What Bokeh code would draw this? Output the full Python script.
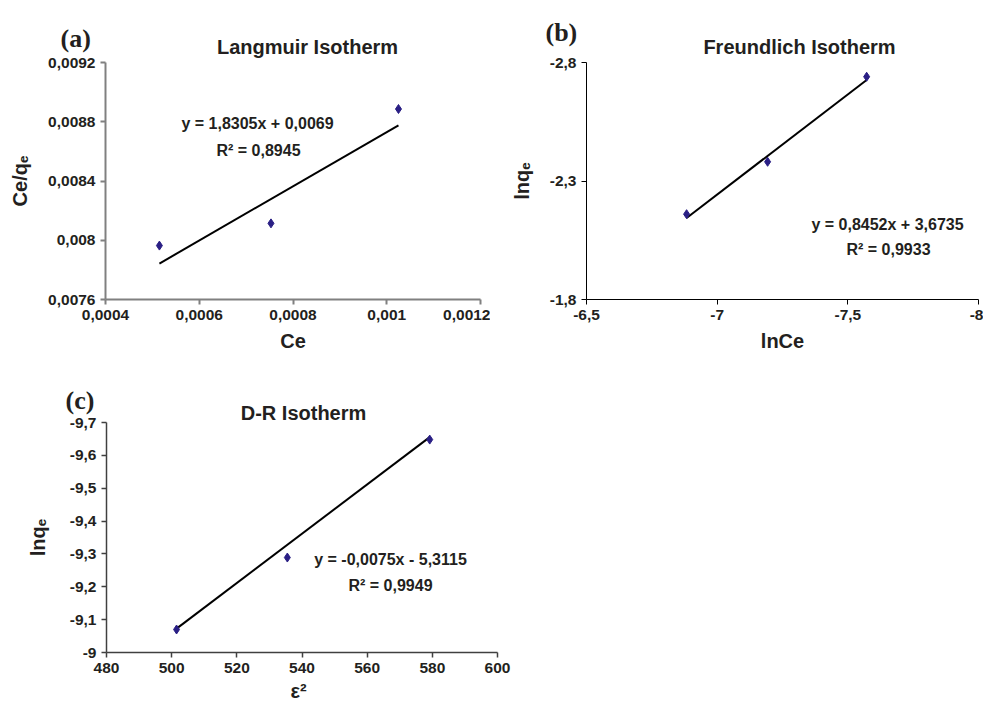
import numpy as np
from bokeh.plotting import figure
from bokeh.models import Range1d, FixedTicker, Label
from bokeh.layouts import column, row
from bokeh.embed import file_html
from bokeh.resources import INLINE

# ---------------- data ----------------
# (a) Langmuir isotherm
LANG_CE = [0.000515, 0.000753, 0.001025]
LANG_CE_QE = [0.007964, 0.008114, 0.008886]
LANG_SLOPE = 1.8305
LANG_INTERCEPT = 0.0069
LANG_XTICKS = [0.0004, 0.0006, 0.0008, 0.001, 0.0012]
LANG_XLABELS = ["0,0004", "0,0006", "0,0008", "0,001", "0,0012"]
LANG_YTICKS = [0.0076, 0.008, 0.0084, 0.0088, 0.0092]
LANG_YLABELS = ["0,0076", "0,008", "0,0084", "0,0088", "0,0092"]

# (b) Freundlich isotherm
FR_LNCE = [-6.883, -7.193, -7.572]
FR_LNQE = [-2.160, -2.381, -2.740]
FR_SLOPE = 0.8452
FR_INTERCEPT = 3.6735
FR_XTICKS = [-6.5, -7.0, -7.5, -8.0]
FR_XLABELS = ["-6,5", "-7", "-7,5", "-8"]
FR_YTICKS = [-2.8, -2.3, -1.8]
FR_YLABELS = ["-2,8", "-2,3", "-1,8"]

# (c) D-R isotherm
DR_EPS2 = [501.5, 535.5, 579.2]
DR_LNQE = [-9.070, -9.289, -9.648]
DR_SLOPE = -0.0075
DR_INTERCEPT = -5.3115
DR_XTICKS = [480, 500, 520, 540, 560, 580, 600]
DR_XLABELS = ["480", "500", "520", "540", "560", "580", "600"]
DR_YTICKS = [-9.7, -9.6, -9.5, -9.4, -9.3, -9.2, -9.1, -9.0]
DR_YLABELS = ["-9,7", "-9,6", "-9,5", "-9,4", "-9,3", "-9,2", "-9,1", "-9"]

SANS = "Liberation Sans"
SERIF = "Liberation Serif"
TXT = "#231f20"
MARK = "#2a1f85"


class Panel:
    """A figure whose frame sits at known pixel positions of the page."""

    def __init__(self, origin, size, frame, xr, yr, axis_color, axis_width,
                 xticks, xlabels, yticks, ylabels, xlabel, ylabel, ylabel_standoff):
        ox, oy = origin
        w, h = size
        L, T, R, B = frame  # page pixels of the frame
        self.frame = frame
        self.xr, self.yr = xr, yr
        p = figure(width=w, height=h, x_range=xr, y_range=yr,
                   output_backend="svg", toolbar_location=None,
                   min_border_left=L - ox, min_border_top=T - oy,
                   min_border_right=ox + w - R, min_border_bottom=oy + h - B)
        p.outline_line_color = None
        p.grid.visible = False
        p.background_fill_color = "white"
        p.border_fill_color = "white"
        for ax, ticks, labels in ((p.xaxis, xticks, xlabels), (p.yaxis, yticks, ylabels)):
            ax.ticker = FixedTicker(ticks=ticks)
            ax.major_label_overrides = dict(zip(ticks, labels))
            ax.axis_line_color = axis_color
            ax.axis_line_width = axis_width
            ax.major_tick_line_color = axis_color
            ax.major_tick_line_width = axis_width
            ax.major_tick_in = 0
            ax.major_tick_out = 5
            ax.minor_tick_line_color = None
            ax.major_label_text_font = SANS
            ax.major_label_text_font_style = "bold"
            ax.major_label_text_font_size = "15.5px"
            ax.major_label_text_color = TXT
            ax.major_label_standoff = 5
            ax.axis_label_text_font = SANS
            ax.axis_label_text_font_style = "bold"
            ax.axis_label_text_font_size = "20px"
            ax.axis_label_text_color = TXT
        p.xaxis.axis_label = xlabel
        p.xaxis.axis_label_standoff = 7
        p.yaxis.axis_label = ylabel
        p.yaxis.axis_label_standoff = ylabel_standoff
        self.p = p

    def to_data(self, px, py):
        L, T, R, B = self.frame
        x = self.xr.start + (px - L) / (R - L) * (self.xr.end - self.xr.start)
        y = self.yr.end - (py - T) / (B - T) * (self.yr.end - self.yr.start)
        return x, y

    def text(self, px, py, text, size="16px", align="center", font=SANS, side=None):
        x, y = self.to_data(px, py)
        lab = Label(x=x, y=y, text=text, text_font=font, text_font_style="bold",
                    text_font_size=size, text_color=TXT, text_align=align,
                    text_baseline="alphabetic")
        if side is None:
            self.p.add_layout(lab)
        else:
            self.p.add_layout(lab, side)

    def fit(self, xs, slope, intercept):
        lx = np.array([min(xs), max(xs)])
        self.p.line(lx, slope * lx + intercept, line_color="black", line_width=2)

    def points(self, xs, ys):
        self.p.scatter(xs, ys, marker="diamond", size=9, color=MARK)


# ---------------- panel (a) ----------------
A = Panel((0, 0), (490, 357), (105, 62, 480, 299),
          Range1d(0.0004, 0.0012), Range1d(0.0076, 0.0092), "#808080", 2,
          LANG_XTICKS, LANG_XLABELS, LANG_YTICKS, LANG_YLABELS,
          "Ce", "Ce/qₑ", 14)
A.fit(LANG_CE, LANG_SLOPE, LANG_INTERCEPT)
A.points(LANG_CE, LANG_CE_QE)
A.text(307, 46, "Langmuir Isotherm", size="20px", side="above")
A.text(60, 38, "(a)", size="26px", align="left", font=SERIF, side="above")
A.text(257, 123, "y = 1,8305x + 0,0069")
A.text(258, 150, "R² = 0,8945")

# ---------------- panel (b) ----------------
B = Panel((490, 0), (493, 357), (586, 62, 978, 299),
          Range1d(-6.5, -8.0), Range1d(-1.8, -2.8), "#000000", 1,
          FR_XTICKS, FR_XLABELS, FR_YTICKS, FR_YLABELS,
          "lnCe", "lnqₑ", 14)
B.fit(FR_LNCE, FR_SLOPE, FR_INTERCEPT)
B.points(FR_LNCE, FR_LNQE)
B.text(799, 46, "Freundlich Isotherm", size="20px", side="above")
B.text(545, 32, "(b)", size="26px", align="left", font=SERIF, side="above")
B.text(887, 224, "y = 0,8452x + 3,6735")
B.text(888, 249, "R² = 0,9933")

# ---------------- panel (c) ----------------
C = Panel((0, 357), (545, 346), (106, 422, 497, 652),
          Range1d(480, 600), Range1d(-9.0, -9.7), "#404040", 1.5,
          DR_XTICKS, DR_XLABELS, DR_YTICKS, DR_YLABELS,
          None, "lnqₑ", 18)
C.fit(DR_EPS2, DR_SLOPE, DR_INTERCEPT)
C.points(DR_EPS2, DR_LNQE)
C.text(303, 412, "D-R Isotherm", size="20px", side="above")
C.text(65, 400, "(c)", size="26px", align="left", font=SERIF, side="above")
C.text(390, 559, "y = -0,0075x - 5,3115")
C.text(390, 585, "R² = 0,9949")
C.text(298, 690, "ε²", size="20px", side="right")

layout = column(row(A.p, B.p), row(C.p))
open("out.html", "w").write(file_html(layout, INLINE))
